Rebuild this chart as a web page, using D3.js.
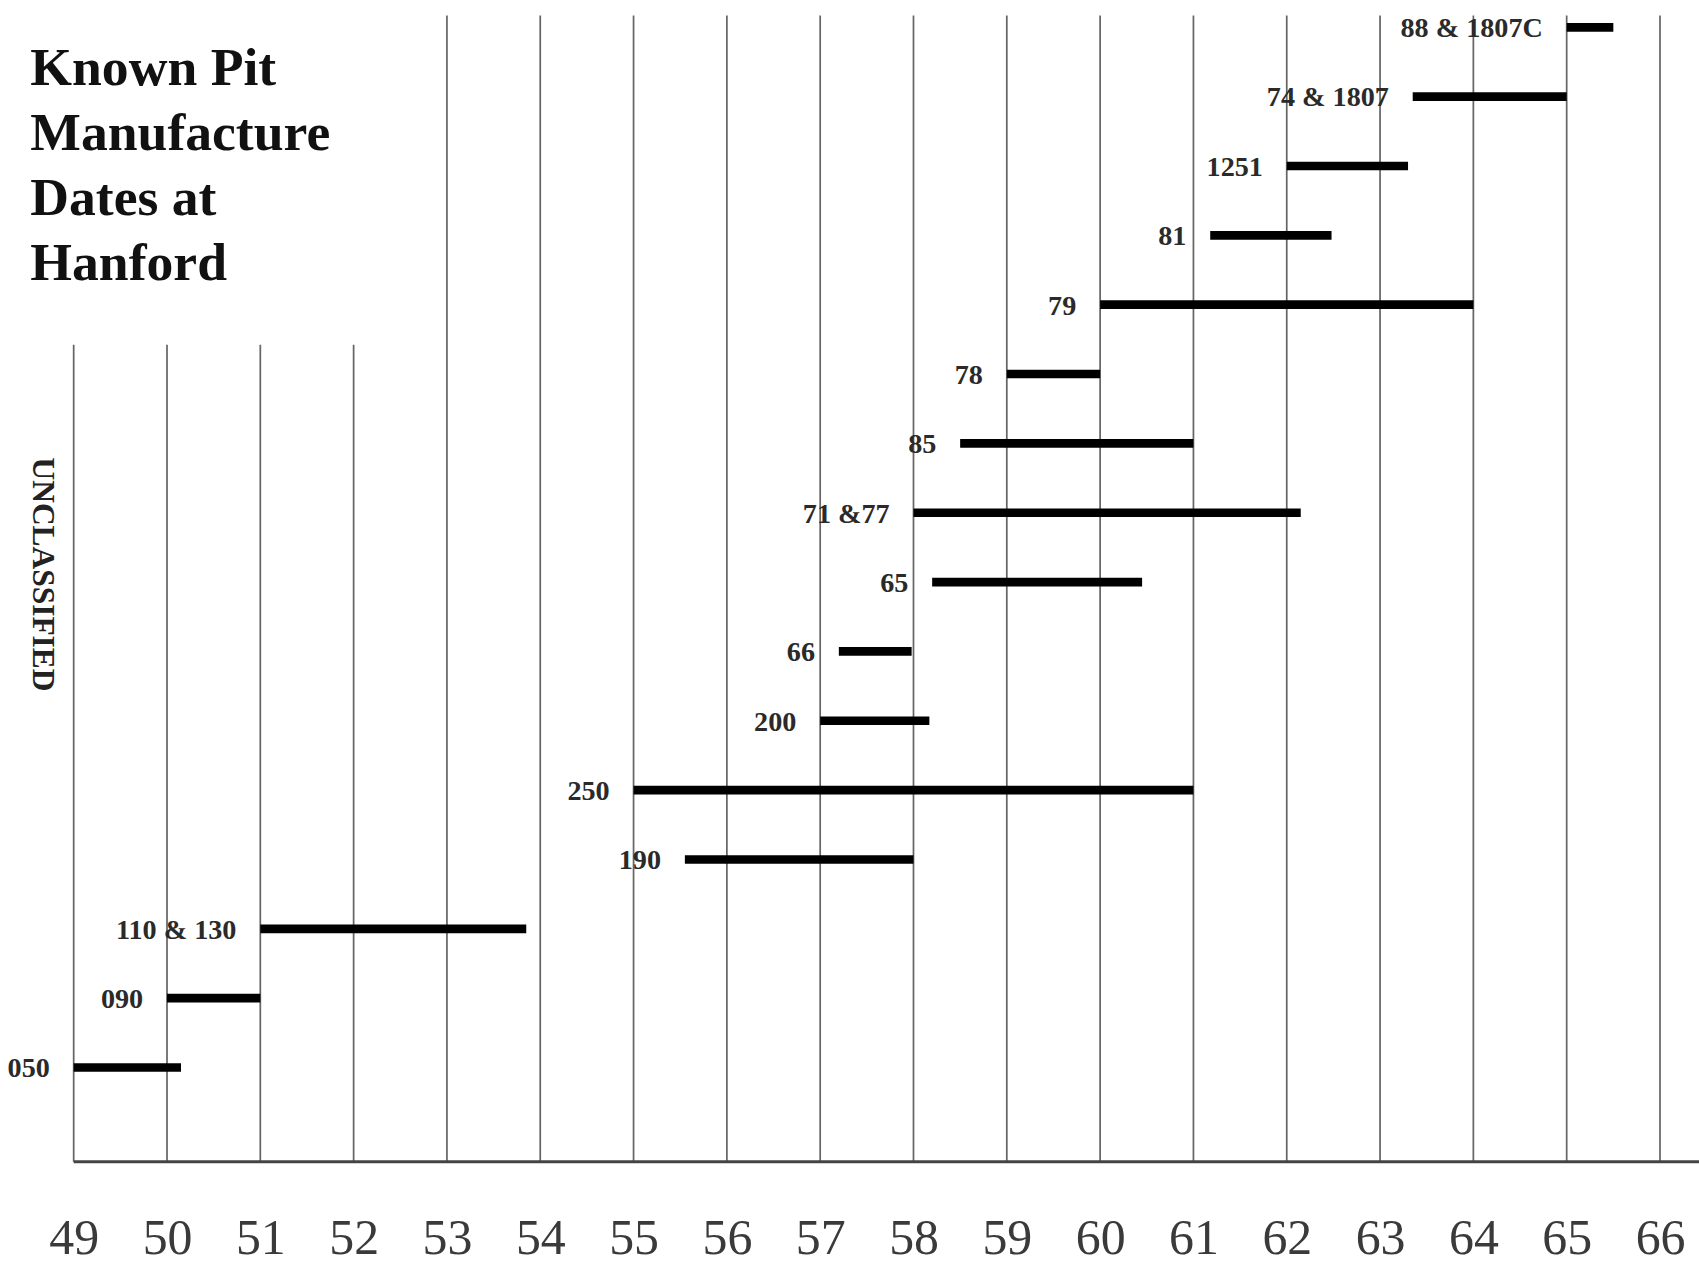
<!DOCTYPE html>
<html>
<head>
<meta charset="utf-8">
<script src="https://cdn.jsdelivr.net/npm/d3@7"></script>
<style>
  html, body { margin: 0; padding: 0; background: #fff; }
  svg { display: block; }
</style>
</head>
<body>
<div id="chart"></div>
<script>
// pits, listed bottom to top
const pits   = ["050", "090", "110 & 130", "190", "250", "200", "66", "65",
                "71 &77", "85", "78", "79", "81", "1251", "74 & 1807", "88 & 1807C"];
const starts = [49.0, 50.0, 51.0, 55.55, 55.0, 57.0, 57.2, 58.2,
                58.0, 58.5, 59.0, 60.0, 61.18, 62.0, 63.35, 65.0];
const ends   = [50.15, 51.0, 53.85, 58.0, 61.0, 58.17, 57.98, 60.45,
                62.15, 61.0, 60.0, 64.0, 62.48, 63.3, 65.0, 65.5];
const years  = d3.range(49, 67);
const titleLines = ["Known Pit", "Manufacture", "Dates at", "Hanford"];

var svg = d3.select("#chart")
            .append("svg")
            .attr("width", 1699)
            .attr("height", 1266)
            .attr("viewBox", "0 0 1568 1168"); // drawn at reference scale

var x = d3.scaleLinear().domain([49, 66]).range([68, 1532]);
var y = d3.scalePoint().domain(pits).range([985, 25]);
var baseY = 1072;

// vertical year lines (left ones stop below the title)
svg.append("g")
   .selectAll("line")
   .data(years)
   .join("line")
   .attr("x1", d => x(d))
   .attr("x2", d => x(d))
   .attr("y1", d => d <= 52 ? 318 : 14)
   .attr("y2", baseY)
   .attr("stroke", "#666")
   .attr("stroke-width", 1.6);

// baseline
svg.append("line")
   .attr("x1", x(49)).attr("x2", 1568)
   .attr("y1", baseY).attr("y2", baseY)
   .attr("stroke", "#444")
   .attr("stroke-width", 2.6);

// year labels
var xAxis = d3.axisBottom(x).tickValues(years).tickSize(0).tickPadding(0);
var ax = svg.append("g")
   .attr("transform", "translate(0," + baseY + ")")
   .call(xAxis);
ax.select(".domain").remove();
ax.selectAll("text")
  .attr("y", 85)
  .attr("dy", 0)
  .attr("fill", "#3a3a3a")
  .style("font-family", "'Liberation Serif', 'Times New Roman', serif")
  .style("font-size", "46px");

// bars
var rows = pits.map((p, i) => ({ name: p, start: starts[i], end: ends[i] }));

svg.append("g")
   .selectAll("line")
   .data(rows)
   .join("line")
   .attr("x1", d => x(d.start))
   .attr("x2", d => x(d.end))
   .attr("y1", d => y(d.name))
   .attr("y2", d => y(d.name))
   .attr("stroke", "#000")
   .attr("stroke-width", 8);

// bar labels
svg.append("g")
   .selectAll("text")
   .data(rows)
   .join("text")
   .attr("x", d => x(d.start) - 22)
   .attr("y", d => y(d.name))
   .attr("dy", "0.35em")
   .attr("text-anchor", "end")
   .attr("fill", "#2a2a2a")
   .style("font-family", "'Liberation Serif', 'Times New Roman', serif")
   .style("font-weight", "bold")
   .style("font-size", "26px")
   .text(d => d.name);

// title
svg.append("text")
   .attr("x", 28)
   .attr("y", 78)
   .attr("fill", "#111")
   .style("font-family", "'Liberation Serif', 'Times New Roman', serif")
   .style("font-weight", "bold")
   .style("font-size", "49.5px")
   .selectAll("tspan")
   .data(titleLines)
   .join("tspan")
   .attr("x", 28)
   .attr("dy", (d, i) => i === 0 ? 0 : 60)
   .text(d => d);

// side marking
svg.append("text")
   .attr("transform", "translate(30,530) rotate(90)")
   .attr("text-anchor", "middle")
   .attr("fill", "#222")
   .style("font-family", "'Liberation Serif', 'Times New Roman', serif")
   .style("font-weight", "bold")
   .style("font-size", "29px")
   .text("UNCLASSIFIED");
</script>
</body>
</html>
